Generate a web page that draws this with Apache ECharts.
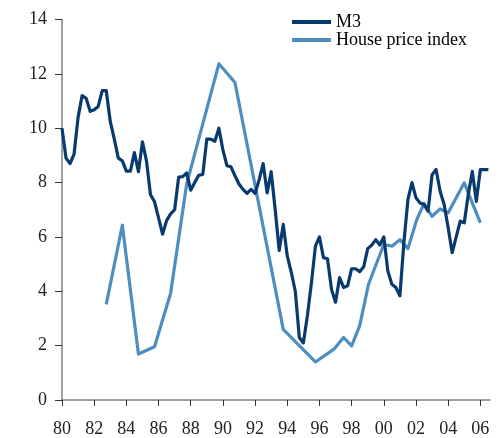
<!DOCTYPE html>
<html>
<head>
<meta charset="utf-8">
<script src="https://cdn.jsdelivr.net/npm/echarts@6/dist/echarts.min.js"></script>
<style>html,body{margin:0;padding:0;background:#fff;}#c{width:500px;height:438px;}</style>
</head>
<body>
<div id="c"></div>
<script>
// M3: quarterly values starting 1980 Q1
const m3Start = 1980.0;
const m3Step = 0.25;
const m3Values = [
  10.0, 8.9, 8.7, 9.05,
  10.4, 11.2, 11.1, 10.62,
  10.68, 10.8, 11.38, 11.38,
  10.25, 9.6, 8.9, 8.8,
  8.42, 8.42, 9.1, 8.4,
  9.5, 8.8, 7.55, 7.3,
  6.7, 6.1, 6.6, 6.85,
  7.0, 8.2, 8.22, 8.35,
  7.72, 8.0, 8.27, 8.3,
  9.6, 9.6, 9.52, 10.0,
  9.2, 8.62, 8.58, 8.25,
  7.95, 7.75, 7.6, 7.75,
  7.6, 8.1, 8.7, 7.62,
  8.4, 7.0, 5.5, 6.46,
  5.3, 4.7, 4.0, 2.3,
  2.1, 3.1, 4.3, 5.66,
  6.0, 5.24, 5.2, 4.07,
  3.6, 4.5, 4.14, 4.2,
  4.83, 4.83, 4.72, 4.9,
  5.57, 5.7, 5.9, 5.7,
  6.0, 4.75, 4.26, 4.14,
  3.83, 5.8, 7.38, 8.0,
  7.44, 7.25, 7.19, 6.95,
  8.29, 8.48, 7.68, 7.19,
  6.34, 5.42, 6.0, 6.58,
  6.52, 7.56, 8.41, 7.31,
  8.48, 8.48, 8.48
];

// House price index: observation dates and values
const hpYears = [
  1982.75, 1983.75, 1984.75, 1985.75, 1986.75, 1987.75, 1989.75, 1990.75,
  1993.75, 1995.75, 1996.9, 1997.5, 1998.0, 1998.5, 1999.05, 2000.0,
  2000.5, 2001.0, 2001.5, 2002.05, 2002.5, 2003.0, 2003.5, 2004.0,
  2004.5, 2005.0, 2006.0
];
const hpValues = [
  3.52, 6.43, 1.69, 1.96, 3.93, 7.95, 12.37, 11.68,
  2.6, 1.4, 1.87, 2.3, 1.99, 2.73, 4.26, 5.72,
  5.66, 5.9, 5.57, 6.64, 7.23, 6.76, 7.03, 6.89,
  7.44, 7.99, 6.52
];

const seriesNames = ['M3', 'House price index'];
const yTicks = [0, 2, 4, 6, 8, 10, 12, 14];

const m3Data = m3Values.map((v, i) => [m3Start + i * m3Step, v]);
const hpData = hpYears.map((y, i) => [y, hpValues[i]]);

const FONT = '"Liberation Serif", "Times New Roman", serif';
const axisGray = '#808080';

const chart = echarts.init(document.getElementById('c'), null, {renderer: 'canvas'});
chart.setOption({
  animation: false,
  backgroundColor: '#fff',
  grid: {left: 62, right: 10, top: 19.5, bottom: 37, containLabel: false},
  legend: {
    orient: 'vertical',
    left: 292,
    top: 13,
    padding: 0,
    itemWidth: 39,
    itemHeight: 4,
    itemGap: 0,
    icon: 'rect',
    textStyle: {fontFamily: FONT, fontSize: 18, color: '#000', lineHeight: 18},
    data: seriesNames
  },
  xAxis: {
    type: 'value',
    min: 1980,
    max: 2006.6,
    interval: 2,
    axisLine: {show: true, lineStyle: {color: axisGray, width: 1.5}},
    axisTick: {show: true, inside: false, length: 6, lineStyle: {color: '#333', width: 1}},
    splitLine: {show: false},
    axisLabel: {
      fontFamily: FONT, fontSize: 18, color: '#222', margin: 20,
      showMaxLabel: false,
      formatter: v => {
        const r = Math.round(v);
        if (Math.abs(v - r) > 1e-6 || r % 2 !== 0) return '';
        return String(r % 100).padStart(2, '0');
      }
    }
  },
  yAxis: {
    type: 'value',
    min: yTicks[0],
    max: yTicks[yTicks.length - 1],
    interval: 2,
    axisLine: {show: true, lineStyle: {color: axisGray, width: 1.5}},
    axisTick: {show: true, inside: false, length: 7, lineStyle: {color: '#333', width: 1}},
    splitLine: {show: false},
    axisLabel: {fontFamily: FONT, fontSize: 18, color: '#222', margin: 15}
  },
  series: [
    {
      name: seriesNames[0],
      type: 'line',
      data: m3Data,
      showSymbol: false,
      symbol: 'none',
      lineStyle: {color: '#083a6e', width: 3.2, join: 'round'},
      itemStyle: {color: '#083a6e'},
      z: 3
    },
    {
      name: seriesNames[1],
      type: 'line',
      data: hpData,
      showSymbol: false,
      symbol: 'none',
      lineStyle: {color: '#4d8dc0', width: 3.2, join: 'round'},
      itemStyle: {color: '#4d8dc0'},
      z: 2
    }
  ]
});
</script>
</body>
</html>
